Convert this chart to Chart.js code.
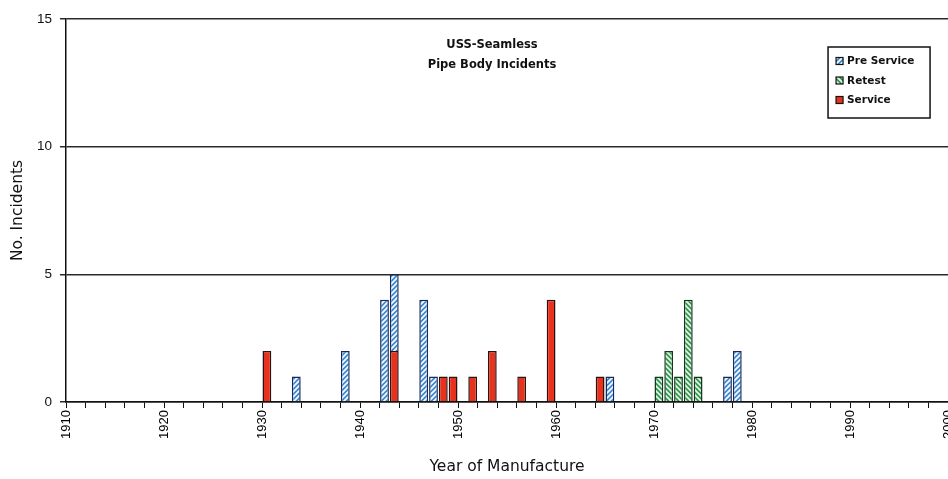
<!DOCTYPE html>
<html>
<head>
<meta charset="utf-8">
<script src="https://cdn.jsdelivr.net/npm/chart.js@4.4.1/dist/chart.umd.min.js"></script>
<style>
  html, body { margin: 0; padding: 0; background: #fff; }
  #wrap { width: 948px; height: 479px; }
</style>
</head>
<body>
<div id="wrap"><canvas id="chart"></canvas></div>
<script>
// values
const titleLines = ['USS-Seamless', 'Pipe Body Incidents'];
const legendOrder = ['Pre Service', 'Retest', 'Service'];

const preServiceYears = [1933, 1938, 1942, 1943, 1946, 1947, 1965, 1977, 1978];
const preServiceCounts = [1, 2, 4, 3, 4, 1, 1, 1, 2];

const retestYears = [1970, 1971, 1972, 1973, 1974];
const retestCounts = [1, 2, 1, 4, 1];

const serviceYears = [1930, 1943, 1948, 1949, 1951, 1953, 1956, 1959, 1964];
const serviceCounts = [2, 2, 1, 1, 1, 2, 1, 4, 1];

const yearLabels = [1910, 1920, 1930, 1940, 1950, 1960, 1970, 1980, 1990, 2000];
const countTicks = [0, 5, 10, 15];

// diagonal hatch fill
function hatch(bg, fg, slash) {
    const s = 5;
    const c = document.createElement('canvas');
    c.width = s; c.height = s;
    const g = c.getContext('2d');
    g.fillStyle = bg;
    g.fillRect(0, 0, s, s);
    g.strokeStyle = fg;
    g.lineWidth = 1.7;
    g.beginPath();
    for (let k = -1; k <= 1; k++) {
        if (slash) {
            g.moveTo(k * s - 1, s + 1);
            g.lineTo(k * s + s + 1, -1);
        } else {
            g.moveTo(k * s - 1, -1);
            g.lineTo(k * s + s + 1, s + 1);
        }
    }
    g.stroke();
    return g.createPattern(c, 'repeat');
}

function points(years, counts) {
    return years.map((yr, i) => ({ x: yr + 0.5, y: counts[i] }));
}

const blueFill = hatch('#3a8ad6', '#ffffff', true);
const greenFill = hatch('#2f9a4c', '#e8f7ea', false);

// service first so it sits at the bottom of a stack
const datasets = [
    {
        label: 'Service',
        data: points(serviceYears, serviceCounts),
        backgroundColor: '#e8321e',
        borderColor: '#2a1410',
        borderWidth: 1.5
    },
    {
        label: 'Retest',
        data: points(retestYears, retestCounts),
        backgroundColor: greenFill,
        borderColor: '#17361f',
        borderWidth: 1.5
    },
    {
        label: 'Pre Service',
        data: points(preServiceYears, preServiceCounts),
        backgroundColor: blueFill,
        borderColor: '#182a55',
        borderWidth: 1.5
    }
];

const overlay = {
    id: 'overlay',
    afterDraw(chart) {
        const ctx = chart.ctx;
        const a = chart.chartArea;
        ctx.save();

        // title inside the plot
        ctx.fillStyle = '#111';
        ctx.font = 'bold 11.5px "DejaVu Sans"';
        ctx.textAlign = 'center';
        ctx.textBaseline = 'middle';
        const cx = a.left + (a.right - a.left) * 0.483;
        titleLines.forEach((t, i) => ctx.fillText(t, cx, a.top + 26 + i * 20));

        // boxed legend, top right
        const bx = a.left + (a.right - a.left) * 0.864;
        const by = a.top + 28;
        const bw = 102, bh = 71;
        ctx.fillStyle = '#fff';
        ctx.fillRect(bx, by, bw, bh);
        ctx.strokeStyle = '#111';
        ctx.lineWidth = 1.5;
        ctx.strokeRect(bx, by, bw, bh);

        ctx.font = 'bold 10.5px "DejaVu Sans"';
        ctx.textAlign = 'left';
        legendOrder.forEach((name, i) => {
            const ds = chart.data.datasets.find(d => d.label === name);
            const y = by + 14 + i * 19.5;
            ctx.fillStyle = ds.backgroundColor;
            ctx.fillRect(bx + 8, y - 3.5, 7, 7);
            ctx.strokeStyle = '#111';
            ctx.lineWidth = 1.2;
            ctx.strokeRect(bx + 8, y - 3.5, 7, 7);
            ctx.fillStyle = '#111';
            ctx.fillText(name, bx + 19, y + 0.5);
        });
        ctx.restore();
    }
};

new Chart(document.getElementById('chart'), {
    type: 'bar',
    data: { datasets: datasets },
    options: {
        responsive: true,
        maintainAspectRatio: false,
        animation: false,
        layout: { padding: { top: 19, right: 0, left: 0, bottom: 0 } },
        datasets: {
            bar: { barPercentage: 0.9, categoryPercentage: 1 }
        },
        plugins: {
            legend: { display: false },
            tooltip: { enabled: false }
        },
        scales: {
            x: {
                type: 'linear',
                stacked: true,
                offset: false,
                min: 1910,
                max: 2000,
                afterFit: s => {
                    s.height = 77;
                    s.paddingLeft = 0;
                    s.paddingRight = 0;
                },
                grid: {
                    offset: false,
                    drawOnChartArea: false,
                    drawTicks: true,
                    tickLength: 6,
                    color: '#111',
                    lineWidth: 1
                },
                border: { display: true, color: '#111', width: 1.5 },
                ticks: {
                    stepSize: 2,
                    autoSkip: false,
                    minRotation: 90,
                    maxRotation: 90,
                    padding: 2,
                    color: '#000',
                    font: { family: '"Liberation Sans"', size: 13 },
                    callback: v => yearLabels.includes(v) ? String(v) : ''
                },
                title: {
                    display: true,
                    text: 'Year of Manufacture',
                    color: '#111',
                    font: { family: '"DejaVu Sans"', size: 15.5 },
                    padding: { top: 0, bottom: 3 }
                }
            },
            y: {
                stacked: true,
                min: 0,
                max: 15,
                afterFit: s => { s.width = 66; },
                grid: {
                    color: '#2a2a2a',
                    lineWidth: 1.5,
                    tickLength: 6
                },
                border: { display: true, color: '#111', width: 1.5 },
                ticks: {
                    stepSize: 5,
                    padding: 8,
                    color: '#111',
                    font: { family: '"Liberation Sans"', size: 13.5 },
                    callback: v => countTicks.includes(v) ? String(v) : ''
                },
                title: {
                    display: true,
                    text: 'No. Incidents',
                    color: '#111',
                    font: { family: '"DejaVu Sans"', size: 15.5 },
                    padding: { top: 9, bottom: 0 }
                }
            }
        }
    },
    plugins: [overlay]
});
</script>
</body>
</html>
